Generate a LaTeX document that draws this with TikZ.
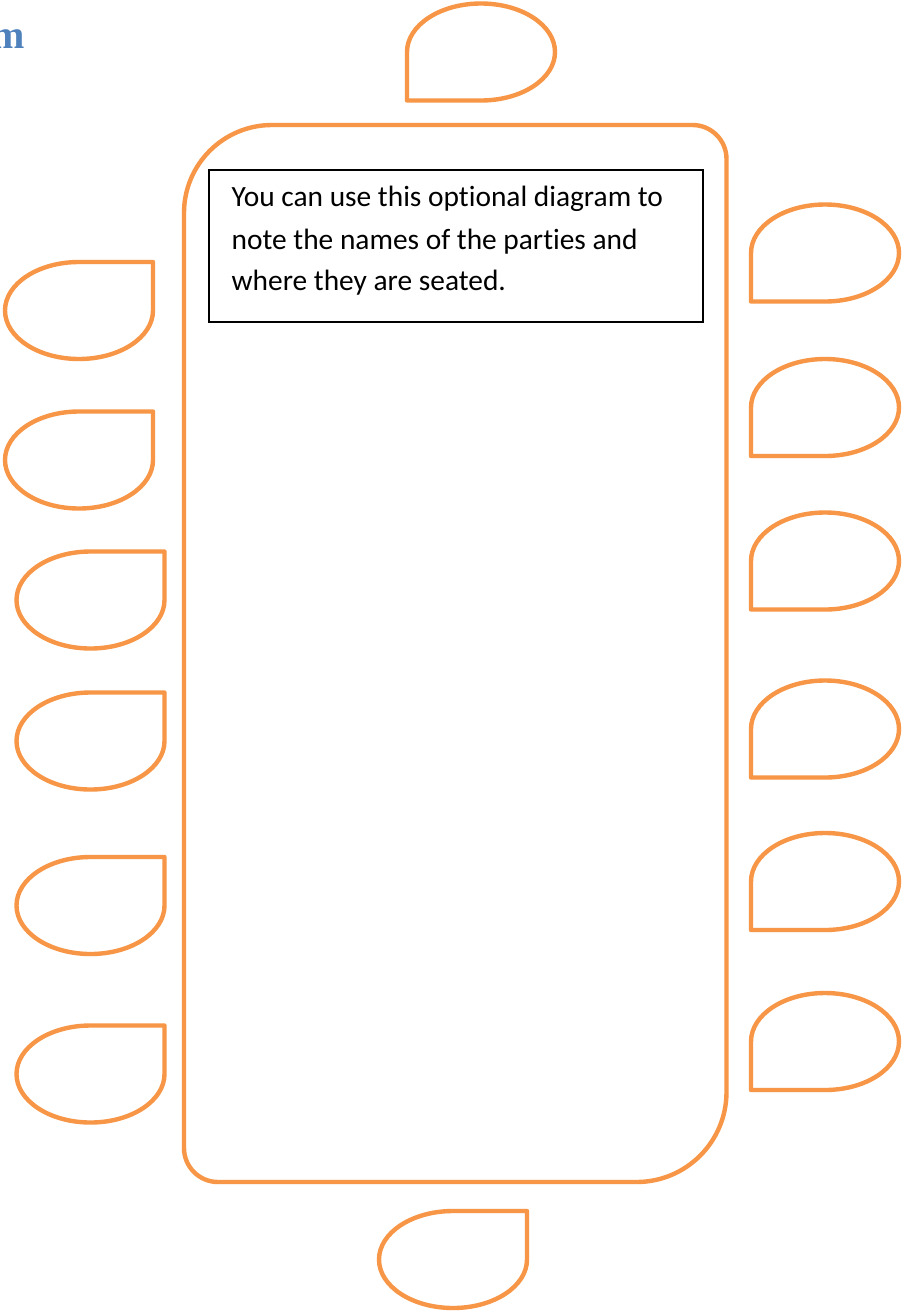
\documentclass[tikz,border=0pt]{standalone}
\usepackage{fontspec}
\newfontfamily\carlito[Ligatures=NoCommon]{Carlito}
\newfontfamily\headserif{Liberation Serif}
\definecolor{chairorange}{HTML}{F79646}
\definecolor{headblue}{HTML}{4F81BD}
\begin{document}
\begin{tikzpicture}[x=1pt,y=-1pt,
  seat/.style={draw=chairorange,line width=4.4pt,line join=round},
  chairR/.pic={\draw[seat] (0,48.5) -- (-74,48.5) -- (-74,0) arc[start angle=180,end angle=-90,x radius=74pt,y radius=48.5pt] -- cycle;},
  chairL/.pic={\draw[seat] (0,-48.5) -- (74,-48.5) -- (74,0) arc[start angle=0,end angle=-270,x radius=74pt,y radius=48.5pt] -- cycle;},
  note/.style={font=\carlito\fontsize{29.4}{41.7}\selectfont, anchor=base west, inner sep=0pt},
  notebox/.style={draw=black, line width=1.3pt, minimum width=494pt, minimum height=152pt, inner sep=0pt}
]
\useasboundingbox (0,0) rectangle (903,1312);
\fill[white] (0,0) rectangle (903,1312);

% heading fragment
\node[anchor=base east, inner sep=0pt, text=headblue, font=\headserif\bfseries\fontsize{40}{40}\selectfont] (head) at (25.5,48) {m};

% table
\draw[seat] (272,125) -- (692.5,125)
  arc[start angle=90,end angle=0,radius=34pt] -- (726.5,1092)
  arc[start angle=0,end angle=-90,radius=90pt] -- (218,1182)
  arc[start angle=-90,end angle=-180,radius=34pt] -- (184,213)
  arc[start angle=180,end angle=90,radius=88pt] -- cycle;

% chairs: top and bottom
\pic (ctop) at (481,52) {chairR};
\pic (cbot) at (453,1259.5) {chairL};

% left chairs
\pic (cl1) at (79,310.5) {chairL};
\pic (cl2) at (79,460) {chairL};
\pic (cl3) at (90.5,600) {chairL};
\pic (cl4) at (90.5,741) {chairL};
\pic (cl5) at (90.5,905.5) {chairL};
\pic (cl6) at (90.5,1074) {chairL};

% right chairs
\pic (cr1) at (825,253) {chairR};
\pic (cr2) at (825,407.5) {chairR};
\pic (cr3) at (825,561) {chairR};
\pic (cr4) at (825,729) {chairR};
\pic (cr5) at (825,881.5) {chairR};
\pic (cr6) at (825,1041.5) {chairR};

% note box
\node[notebox] (box) at (456,246) {};
\node[note] (l1) at (231.5,206.7) {You can use this optional diagram to};
\node[note] (l2) at (231.5,249.3) {note the names of the parties and};
\node[note] (l3) at (231.5,290.5) {where they are seated.};
\end{tikzpicture}
\end{document}
